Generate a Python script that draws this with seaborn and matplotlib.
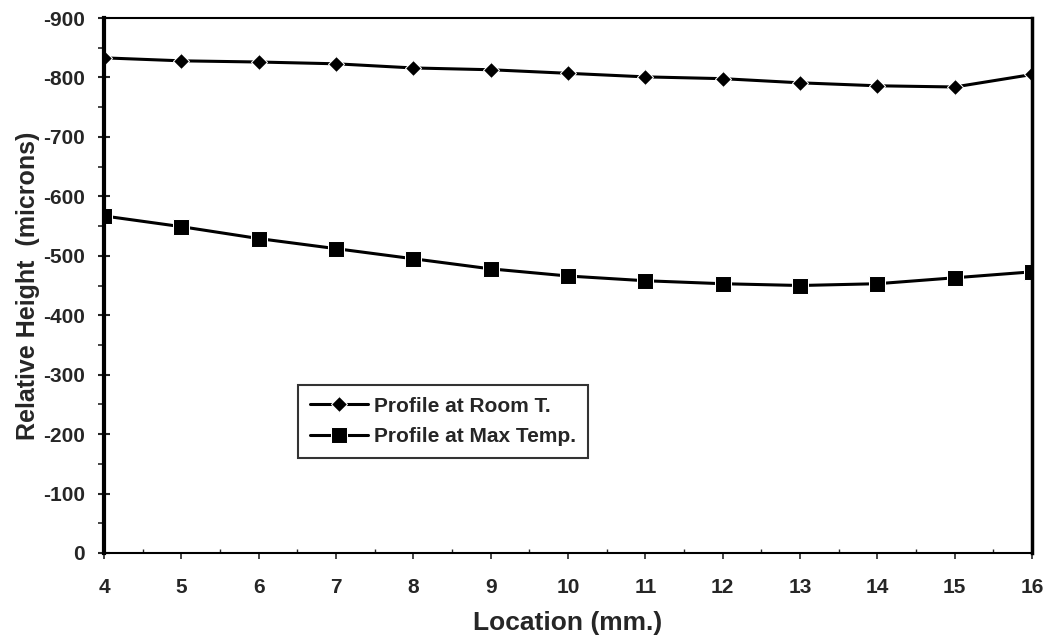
import pandas as pd
import matplotlib.pyplot as plt
from matplotlib.ticker import MultipleLocator
import seaborn as sns

sns.set_style("white")
plt.rcParams['font.family'] = ['Liberation Sans', 'DejaVu Sans']
plt.rcParams['font.weight'] = 'bold'
plt.rcParams['axes.unicode_minus'] = False

# data
location = [4, 5, 6, 7, 8, 9, 10, 11, 12, 13, 14, 15, 16]
room_t = [-833, -828, -826, -823, -816, -813, -807, -801, -798, -791, -786, -784, -805]
max_temp = [-567, -549, -529, -512, -495, -478, -466, -458, -453, -450, -453, -463, -473]
series_names = ["Profile at Room T.", "Profile at Max Temp."]
y_ticks = [0, -100, -200, -300, -400, -500, -600, -700, -800, -900]

df = pd.DataFrame({
    "Location": location * 2,
    "Height": room_t + max_temp,
    "Series": [series_names[0]] * len(location) + [series_names[1]] * len(location),
})

fig = plt.figure(figsize=(10.47, 6.37), dpi=100)
ax = fig.add_axes([0.0993, 0.1319, 0.8864, 0.8398])

sns.lineplot(data=df[df["Series"] == series_names[0]], x="Location", y="Height",
             marker="D", markersize=8, color="black", linewidth=2.2,
             label=series_names[0], ax=ax)
sns.lineplot(data=df[df["Series"] == series_names[1]], x="Location", y="Height",
             marker="s", markersize=11, color="black", linewidth=2.2,
             label=series_names[1], ax=ax)

ax.set_xlim(4, 16)
ax.set_ylim(0, -900)
ax.set_xticks(location)
ax.set_yticks(y_ticks)
ax.yaxis.set_minor_locator(MultipleLocator(50))
ax.xaxis.set_minor_locator(MultipleLocator(0.5))

ax.tick_params(axis='y', which='major', direction='inout', length=9, width=1.5,
               labelsize=15, pad=9, left=True)
ax.tick_params(axis='y', which='minor', direction='out', length=4, width=1.2, left=True)
ax.tick_params(axis='x', which='major', direction='out', length=4, width=1.2,
               labelsize=15, pad=14, bottom=True)
ax.tick_params(axis='x', which='minor', direction='in', length=3, width=1.0, bottom=True)

for lab in ax.get_xticklabels() + ax.get_yticklabels():
    lab.set_fontweight('bold')

ax.spines['left'].set_linewidth(3)
ax.spines['right'].set_linewidth(2.5)
ax.spines['top'].set_linewidth(1.5)
ax.spines['bottom'].set_linewidth(1.5)
for s in ax.spines.values():
    s.set_color('black')

ax.set_xlabel("Location (mm.)", fontsize=19, fontweight='bold', labelpad=10)
ax.set_ylabel("Relative Height  (microns)", fontsize=18, fontweight='bold', labelpad=2)

leg = ax.legend(loc='upper left', bbox_to_anchor=(0.198, 0.333), fontsize=15,
                frameon=True, fancybox=False, handlelength=2.8, borderpad=0.55,
                labelspacing=0.55, handletextpad=0.3)
leg.get_frame().set_edgecolor('black')
leg.get_frame().set_linewidth(1.5)
for t in leg.get_texts():
    t.set_fontweight('bold')

fig.savefig("out.png", dpi=100)
